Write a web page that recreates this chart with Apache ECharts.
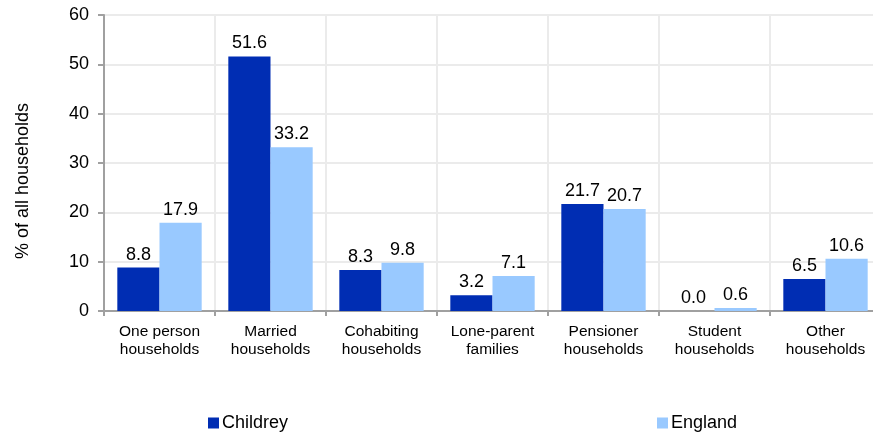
<!DOCTYPE html>
<html><head><meta charset="utf-8">
<script src="https://cdn.jsdelivr.net/npm/echarts@6/dist/echarts.min.js"></script>
<style>html,body{margin:0;padding:0;background:#fff}#c{width:873px;height:432px}</style>
</head><body><div id="c"></div>
<script>
const categories = ["One person\nhouseholds","Married\nhouseholds","Cohabiting\nhouseholds","Lone-parent\nfamilies","Pensioner\nhouseholds","Student\nhouseholds","Other\nhouseholds"];
const childrey = [8.8, 51.6, 8.3, 3.2, 21.7, 0.0, 6.5];
const england = [17.9, 33.2, 9.8, 7.1, 20.7, 0.6, 10.6];
const yTicks = {min: 0, max: 60, interval: 10};
const yTitle = '% of all households';

const chart = echarts.init(document.getElementById('c'));
const FF = 'Liberation Sans, Arial';
const labelStyle = {show: true, position: 'top', color: '#000', fontSize: 18, fontFamily: FF, distance: 4, formatter: p => p.value.toFixed(1)};
chart.setOption({
  animation: false,
  textStyle: {fontFamily: FF},
  grid: {left: 104, width: 777, top: 15, bottom: 121, containLabel: false, outerBoundsMode: 'none'},
  legend: [
    {data: ['Childrey'], left: 203, top: 409, itemWidth: 11, itemHeight: 11, itemGap: 8, icon: 'rect', textStyle: {fontSize: 18, color: '#000', padding: [0,0,0,-2]}},
    {data: ['England'], left: 652, top: 409, itemWidth: 11, itemHeight: 11, itemGap: 8, icon: 'rect', textStyle: {fontSize: 18, color: '#000', padding: [0,0,0,-2]}}
  ],
  graphic: [{
    type: 'text', x: 23, y: 181, rotation: Math.PI / 2,
    style: {text: yTitle, fontSize: 18, fontFamily: FF, fill: '#000', align: 'center', verticalAlign: 'middle'}
  }],
  xAxis: {
    type: 'category', data: categories,
    axisLine: {lineStyle: {color: '#a0a0a0', width: 2}},
    axisTick: {show: true, length: 5, lineStyle: {color: '#a0a0a0', width: 2}},
    splitLine: {show: true, lineStyle: {color: '#ebebeb', width: 2}},
    axisLabel: {color: '#000', fontSize: 15.5, lineHeight: 18, margin: 12, interval: 0}
  },
  yAxis: {
    type: 'value', min: yTicks.min, max: yTicks.max, interval: yTicks.interval,
    axisLine: {show: true, lineStyle: {color: '#a0a0a0', width: 2}},
    axisTick: {show: true, length: 6, lineStyle: {color: '#a0a0a0', width: 2}},
    splitLine: {lineStyle: {color: '#ebebeb', width: 2}},
    axisLabel: {color: '#000', fontSize: 18, margin: 15}
  },
  series: [
    {name: 'Childrey', type: 'bar', data: childrey, barGap: '0%', barCategoryGap: '24%', itemStyle: {color: '#002db3'}, label: labelStyle},
    {name: 'England', type: 'bar', data: england, itemStyle: {color: '#99c9ff'}, label: labelStyle}
  ]
});
</script></body></html>
